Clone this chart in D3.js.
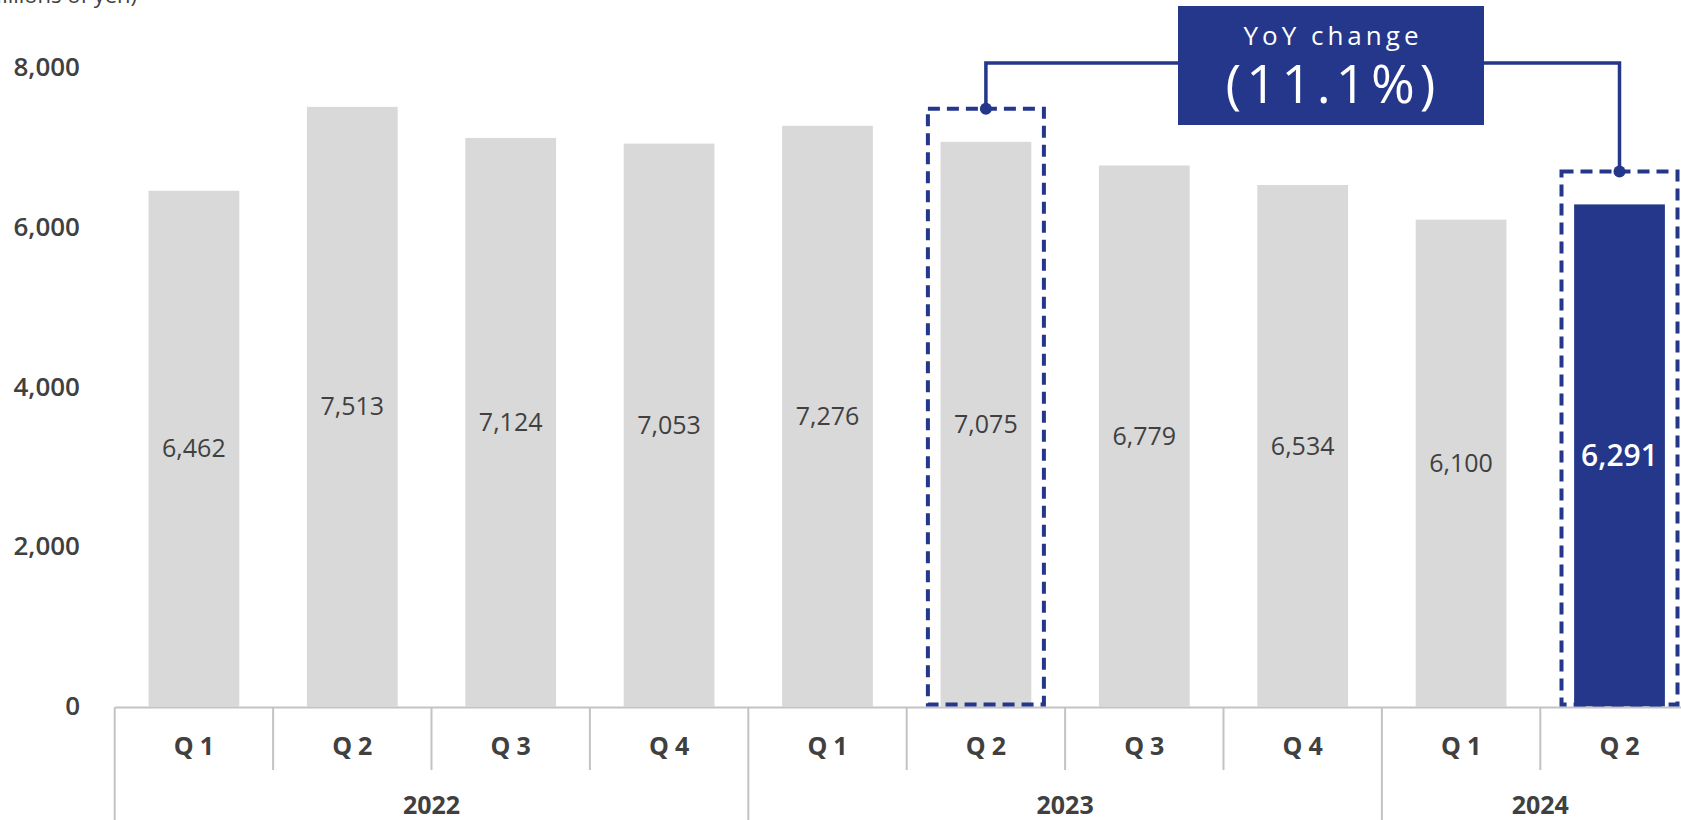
<!DOCTYPE html>
<html>
<head>
<meta charset="utf-8">
<script src="https://cdn.jsdelivr.net/npm/d3@7"></script>
<style>
  html, body { margin: 0; padding: 0; background: #ffffff; }
  svg { display: block; }
  text { font-family: "Open Sans", "Noto Sans", sans-serif; }
</style>
</head>
<body>
<svg id="chart" width="1681" height="820"></svg>
<script>
// ---- data ----
const quarters = ["Q1", "Q2", "Q3", "Q4", "Q1", "Q2", "Q3", "Q4", "Q1", "Q2"];
const yearOf   = ["2022", "2022", "2022", "2022", "2023", "2023", "2023", "2023", "2024", "2024"];
const years    = ["2022", "2023", "2024"];
const values   = [6462, 7513, 7124, 7053, 7276, 7075, 6779, 6534, 6100, 6291];
const yTicks   = [0, 2000, 4000, 6000, 8000];
const unitLabel = "(Millions of yen)";
const highlightIndex = 9;      // current quarter
const compareIndex = 5;        // same quarter a year earlier
const yoyTitle = "YoY change";
const yoyValue = "(11.1%)";

// ---- layout ----
const GRAY = "#d9d9d9", NAVY = "#24378a", TEXT = "#404040", AXIS = "#c3c3c3";
const svg = d3.select("#chart");
const idx = d3.range(values.length);

const x = d3.scaleBand()
  .domain(idx)
  .range([114.7, 1698.7])
  .paddingInner(0.427)
  .paddingOuter(0.2135);
const step = x.step();
const x0 = 114.7;
const cx = i => x(i) + x.bandwidth() / 2;

const y = d3.scaleLinear().domain([0, 8000]).range([706.5, 68]);

// unit label (clipped at top like the original)
svg.append("text")
  .attr("x", 137).attr("y", 3)
  .attr("text-anchor", "end")
  .attr("font-size", 22)
  .attr("fill", TEXT)
  .text(unitLabel);

// y axis
const yAxis = d3.axisLeft(y).tickValues(yTicks).tickFormat(d3.format(",")).tickSize(0).tickPadding(0);
const gy = svg.append("g").attr("transform", "translate(80,0)").call(yAxis);
gy.select(".domain").remove();
gy.selectAll("text")
  .attr("font-family", "'Open Sans', sans-serif")
  .attr("font-size", 26)
  .attr("font-weight", 600)
  .attr("fill", TEXT)
  .attr("dy", "0.3em");

// bars
svg.append("g").selectAll("rect").data(idx).join("rect")
  .attr("x", i => x(i))
  .attr("y", i => y(values[i]))
  .attr("width", x.bandwidth())
  .attr("height", i => y(0) - y(values[i]))
  .attr("fill", i => i === highlightIndex ? NAVY : GRAY);

// value labels
svg.append("g").selectAll("text").data(idx).join("text")
  .attr("x", cx)
  .attr("y", i => (y(values[i]) + y(0)) / 2)
  .attr("dy", "0.35em")
  .attr("text-anchor", "middle")
  .attr("font-size", i => i === highlightIndex ? 30 : 25)
  .attr("font-weight", i => i === highlightIndex ? 600 : 400)
  .attr("fill", i => i === highlightIndex ? "#ffffff" : TEXT)
  .text(i => d3.format(",")(values[i]));

// x axis baseline
svg.append("line")
  .attr("x1", x0).attr("x2", 1681)
  .attr("y1", y(0) + 1).attr("y2", y(0) + 1)
  .attr("stroke", AXIS).attr("stroke-width", 2);

// category dividers
const boundaries = d3.range(values.length + 1);
svg.append("g").selectAll("line").data(boundaries).join("line")
  .attr("x1", b => x0 + b * step).attr("x2", b => x0 + b * step)
  .attr("y1", y(0) + 1)
  .attr("y2", b => (b === 0 || (b < values.length && yearOf[b] !== yearOf[b - 1])) ? 820 : 770)
  .attr("stroke", AXIS).attr("stroke-width", 2);

// quarter labels
svg.append("g").selectAll("text").data(idx).join("text")
  .attr("x", i => cx(i) + 3)
  .attr("y", 755)
  .attr("text-anchor", "middle")
  .attr("font-size", 25)
  .attr("font-weight", 700)
  .attr("letter-spacing", 6)
  .attr("fill", TEXT)
  .text(i => quarters[i]);

// year labels
svg.append("g").selectAll("text").data(years).join("text")
  .attr("x", yr => {
    const members = idx.filter(i => yearOf[i] === yr);
    const a = x0 + members[0] * step;
    const b = x0 + (members[members.length - 1] + 1) * step;
    return (a + b) / 2;
  })
  .attr("y", 814)
  .attr("text-anchor", "middle")
  .attr("font-size", 25)
  .attr("font-weight", 700)
  .attr("fill", TEXT)
  .text(yr => yr);

// dashed highlight boxes
const boxHalf = 58, boxTopPad = 33;
const boxes = [compareIndex, highlightIndex];
svg.append("g").selectAll("rect").data(boxes).join("rect")
  .attr("x", i => cx(i) - boxHalf)
  .attr("y", i => y(values[i]) - boxTopPad)
  .attr("width", boxHalf * 2)
  .attr("height", i => y(0) - 2 - (y(values[i]) - boxTopPad))
  .attr("fill", "none")
  .attr("stroke", NAVY)
  .attr("stroke-width", 4)
  .attr("stroke-dasharray", "12 7");

// connector
const lineY = 63;
const boxL = 1178, boxR = 1484, boxT = 6, boxB = 125;
const conn = d3.line();
svg.append("path")
  .attr("d", conn([[cx(compareIndex), y(values[compareIndex]) - boxTopPad], [cx(compareIndex), lineY], [boxL, lineY]]))
  .attr("fill", "none").attr("stroke", NAVY).attr("stroke-width", 3.5);
svg.append("path")
  .attr("d", conn([[boxR, lineY], [cx(highlightIndex), lineY], [cx(highlightIndex), y(values[highlightIndex]) - boxTopPad]]))
  .attr("fill", "none").attr("stroke", NAVY).attr("stroke-width", 3.5);
svg.append("g").selectAll("circle").data(boxes).join("circle")
  .attr("cx", cx)
  .attr("cy", i => y(values[i]) - boxTopPad)
  .attr("r", 6)
  .attr("fill", NAVY);

// YoY label box
svg.append("rect")
  .attr("x", boxL).attr("y", boxT)
  .attr("width", boxR - boxL).attr("height", boxB - boxT)
  .attr("fill", NAVY);
svg.append("text")
  .attr("x", (boxL + boxR) / 2 + 2).attr("y", 45)
  .attr("text-anchor", "middle")
  .attr("font-size", 26)
  .attr("letter-spacing", 4)
  .attr("fill", "#ffffff")
  .text(yoyTitle);
svg.append("text")
  .attr("x", (boxL + boxR) / 2 + 2).attr("y", 103)
  .attr("text-anchor", "middle")
  .attr("font-size", 53)
  .attr("font-weight", 500)
  .attr("letter-spacing", 5)
  .attr("fill", "#ffffff")
  .text(yoyValue);
</script>
</body>
</html>
